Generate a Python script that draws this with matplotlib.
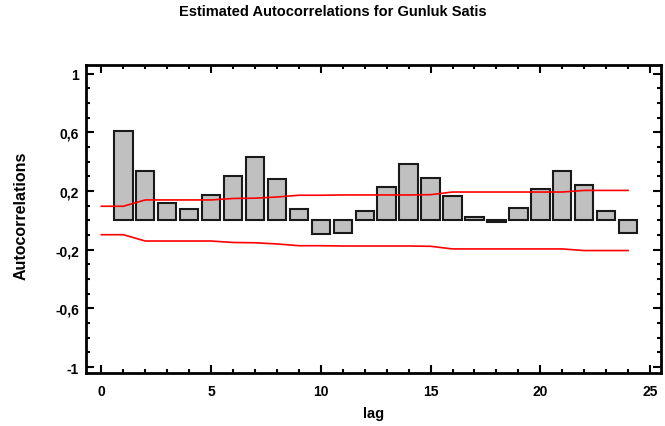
import matplotlib
matplotlib.use("Agg")
import matplotlib.pyplot as plt
from matplotlib.ticker import MultipleLocator, FuncFormatter

plt.rcParams['font.family'] = ['Liberation Sans', 'DejaVu Sans']
plt.rcParams['font.weight'] = 'bold'

# otokorelasyon degerleri (lag 1..24)
lags = list(range(1, 25))
acf = [0.612, 0.334, 0.12, 0.077, 0.174, 0.303, 0.432, 0.282, 0.077, -0.095,
       -0.084, 0.066, 0.228, 0.386, 0.292, 0.165, 0.027, -0.008, 0.088, 0.217,
       0.337, 0.24, 0.066, -0.084]

# guven sinirlari (lag 0..24)
limit_lags = list(range(0, 25))
upper = [0.097, 0.097, 0.14, 0.14, 0.14, 0.14, 0.15, 0.152, 0.16, 0.172,
         0.172, 0.174, 0.174, 0.174, 0.174, 0.176, 0.194, 0.194, 0.194, 0.194,
         0.194, 0.194, 0.205, 0.205, 0.205]
lower = [-u for u in upper]

fig = plt.figure(figsize=(6.65, 4.27), dpi=100)
ax = fig.add_axes([0.1293, 0.1241, 0.8647, 0.7213])

ax.bar(lags, acf, width=0.84, color='#c0c0c0', edgecolor='#1a1a1a', linewidth=1.5, zorder=2)
ax.plot(limit_lags, upper, color='#ff0000', linewidth=1.2, zorder=3)
ax.plot(limit_lags, lower, color='#ff0000', linewidth=1.2, zorder=3)

ax.set_xlim(-0.7, 25.5)
ax.set_ylim(-1.04, 1.06)

ax.xaxis.set_major_locator(MultipleLocator(5))
ax.xaxis.set_minor_locator(MultipleLocator(1))
ax.yaxis.set_minor_locator(MultipleLocator(0.1))
ax.set_yticks([-1, -0.6, -0.2, 0.2, 0.6, 1])

def virgul(v, pos):
    if abs(v - round(v)) < 1e-9:
        return str(int(round(v)))
    return ('%.1f' % v).replace('.', ',')

ax.yaxis.set_major_formatter(FuncFormatter(virgul))

ax.tick_params(which='both', direction='in', top=True, right=True, width=1.5,
               labelsize=10)
ax.tick_params(axis='x', pad=8)
ax.tick_params(axis='y', pad=5)
ax.tick_params(which='major', length=6)
ax.tick_params(which='minor', length=3)
for s in ax.spines.values():
    s.set_linewidth(2)

ax.set_xlabel('lag', fontsize=10.5, fontweight='bold', labelpad=6)
ax.set_ylabel('Autocorrelations', fontsize=11.5, fontweight='bold')
ax.yaxis.set_label_coords(-0.099, 0.515)
fig.suptitle('Estimated Autocorrelations for Gunluk Satis', fontsize=10.5,
             fontweight='bold', y=0.988)

fig.savefig('out.png', dpi=100)
